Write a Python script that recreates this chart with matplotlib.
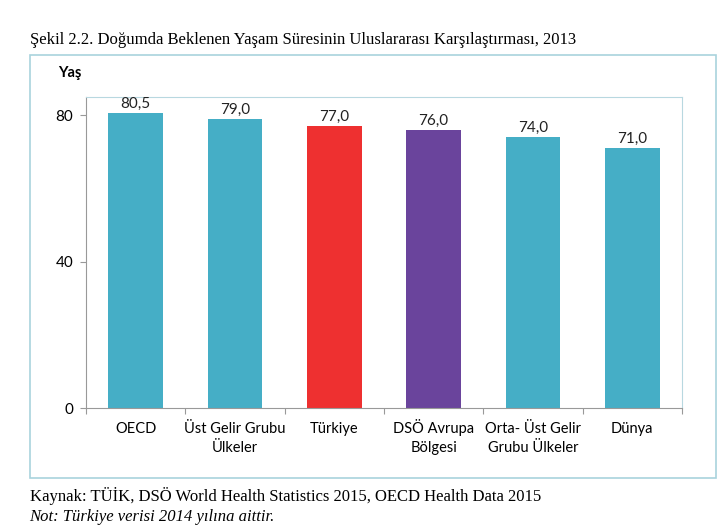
import matplotlib.pyplot as plt
from matplotlib.patches import Rectangle
import matplotlib.transforms as mtransforms

# data
categories = ["OECD", "Üst Gelir Grubu\nÜlkeler", "Türkiye", "DSÖ Avrupa\nBölgesi",
              "Orta- Üst Gelir\nGrubu Ülkeler", "Dünya"]
values = [80.5, 79.0, 77.0, 76.0, 74.0, 71.0]
value_labels = ["80,5", "79,0", "77,0", "76,0", "74,0", "71,0"]
colors = ["#45AEC6", "#45AEC6", "#EE3030", "#6A449C", "#45AEC6", "#45AEC6"]
yticks = [0, 40, 80]

W, H = 727, 530
fig = plt.figure(figsize=(W / 100, H / 100), dpi=100)
FONT = "Lato"

def fx(px):
    return px / W

def fy(py):
    return 1 - py / H

# outer frame
fig.patches.append(Rectangle((fx(30), fy(478)), fx(716) - fx(30), fy(55) - fy(478),
                             transform=fig.transFigure, fill=False,
                             edgecolor="#A9D3DD", linewidth=1.2))

ax = fig.add_axes([fx(86), fy(408), fx(682) - fx(86), fy(97) - fy(408)])
x = list(range(len(categories)))
ax.bar(x, values, width=0.55, color=colors)
for xi, v, lab in zip(x, values, value_labels):
    ax.text(xi, v + 0.6, lab, ha="center", va="bottom", fontsize=11,
            family=FONT, color="#222222")

ax.set_xlim(-0.5, len(categories) - 0.5)
ax.set_ylim(0, 85)
ax.set_yticks(yticks)
ax.set_yticklabels([str(t) for t in yticks], fontsize=11, family=FONT)
ax.set_xticks([i - 0.5 for i in range(len(categories) + 1)])
ax.set_xticklabels([])
ax.tick_params(axis="x", which="major", length=4, color="#999999", direction="out")
ax.tick_params(axis="y", length=4, color="#999999", direction="out", pad=5)

# category labels, each line baseline aligned like the original
for xi, cat in zip(x, categories):
    for i, line in enumerate(cat.split("\n")):
        tr = mtransforms.offset_copy(ax.get_xaxis_transform(), fig=fig,
                                     x=0, y=-18 - 13.5 * i, units="points")
        ax.text(xi, 0, line, transform=tr, ha="center", va="baseline",
                fontsize=10.5, family=FONT, clip_on=False)

for s in ["left", "bottom"]:
    ax.spines[s].set_color("#999999")
for s in ["top", "right"]:
    ax.spines[s].set_color("#B8D8E0")

fig.text(fx(58), fy(73), "Yaş", fontsize=10.5, fontweight="bold", family=FONT,
         va="center", ha="left")

fig.text(fx(30), fy(40), "Şekil 2.2. Doğumda Beklenen Yaşam Süresinin Uluslararası Karşılaştırması, 2013",
         fontsize=12, family="Liberation Serif", va="center", ha="left")
fig.text(fx(30), fy(496), "Kaynak: TÜİK, DSÖ World Health Statistics 2015, OECD Health Data 2015",
         fontsize=12, family="Liberation Serif", va="center", ha="left")
fig.text(fx(29), fy(517), "Not: Türkiye verisi 2014 yılına aittir.",
         fontsize=12, family="Liberation Serif", style="italic", va="center", ha="left")

fig.savefig("out.png", dpi=100)
